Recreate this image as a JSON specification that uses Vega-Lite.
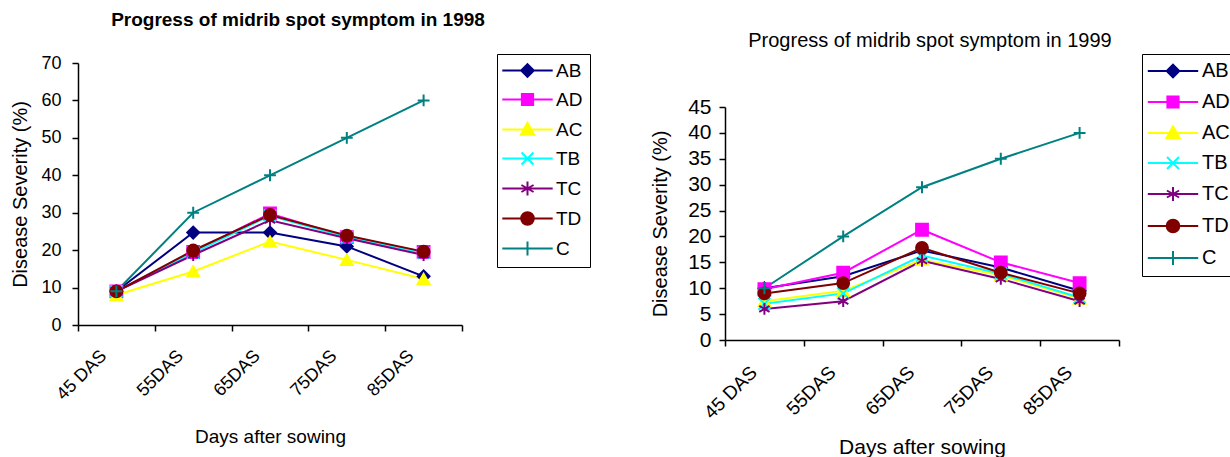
{
  "$schema": "https://vega.github.io/schema/vega-lite/v6.json",
  "padding": {"left": 10, "top": 10, "right": 0, "bottom": 0},
  "background": "white",
  "config": {
    "font": "Liberation Sans",
    "view": {"stroke": null},
    "axis": {
      "grid": false,
      "domainColor": "black",
      "domainWidth": 1.5,
      "tickColor": "black",
      "tickWidth": 1.5,
      "tickSize": 6,
      "labelColor": "black",
      "titleColor": "black",
      "titleFontWeight": "normal",
      "labelFont": "Liberation Sans",
      "titleFont": "Liberation Sans"
    },
    "legend": {
      "strokeColor": "black",
      "fillColor": "white",
      "padding": 7,
      "cornerRadius": 0,
      "labelColor": "black",
      "labelFont": "Liberation Sans",
      "symbolSize": 196,
      "symbolOffset": 14,
      "symbolStrokeWidth": 2,
      "symbolOpacity": 1,
      "labelOffset": 19,
      "rowPadding": 8,
      "title": null
    },
    "concat": {"spacing": 59}
  },
  "resolve": {
    "scale": {"color": "independent", "shape": "independent", "stroke": "independent"},
    "legend": {"color": "independent", "shape": "independent", "stroke": "independent"}
  },
  "hconcat": [
    {
      "width": 384,
      "height": 262,
      "title": {
        "text": "Progress of midrib spot symptom in 1998",
        "fontSize": 19,
        "fontWeight": "bold",
        "color": "black",
        "anchor": "middle",
        "dx": 28,
        "offset": 24
      },
      "data": {
        "values": [
          {"series": "AB", "day": "45 DAS", "value": 9},
          {"series": "AB", "day": "55DAS", "value": 24.7},
          {"series": "AB", "day": "65DAS", "value": 24.7},
          {"series": "AB", "day": "75DAS", "value": 21},
          {"series": "AB", "day": "85DAS", "value": 13},
          {"series": "AD", "day": "45 DAS", "value": 9},
          {"series": "AD", "day": "55DAS", "value": 19.5},
          {"series": "AD", "day": "65DAS", "value": 29.8},
          {"series": "AD", "day": "75DAS", "value": 23.5},
          {"series": "AD", "day": "85DAS", "value": 19.5},
          {"series": "AC", "day": "45 DAS", "value": 8},
          {"series": "AC", "day": "55DAS", "value": 14.3},
          {"series": "AC", "day": "65DAS", "value": 22.3},
          {"series": "AC", "day": "75DAS", "value": 17.4},
          {"series": "AC", "day": "85DAS", "value": 12.3},
          {"series": "TB", "day": "45 DAS", "value": 9},
          {"series": "TB", "day": "55DAS", "value": 19.3},
          {"series": "TB", "day": "65DAS", "value": 29.2},
          {"series": "TB", "day": "75DAS", "value": 23.5},
          {"series": "TB", "day": "85DAS", "value": 19.2},
          {"series": "TC", "day": "45 DAS", "value": 9},
          {"series": "TC", "day": "55DAS", "value": 18.7},
          {"series": "TC", "day": "65DAS", "value": 28},
          {"series": "TC", "day": "75DAS", "value": 23.2},
          {"series": "TC", "day": "85DAS", "value": 18.7},
          {"series": "TD", "day": "45 DAS", "value": 9},
          {"series": "TD", "day": "55DAS", "value": 19.9},
          {"series": "TD", "day": "65DAS", "value": 29.4},
          {"series": "TD", "day": "75DAS", "value": 23.9},
          {"series": "TD", "day": "85DAS", "value": 19.6},
          {"series": "C", "day": "45 DAS", "value": 9},
          {"series": "C", "day": "55DAS", "value": 30},
          {"series": "C", "day": "65DAS", "value": 40},
          {"series": "C", "day": "75DAS", "value": 50},
          {"series": "C", "day": "85DAS", "value": 60}
        ]
      },
      "encoding": {
        "x": {
          "field": "day",
          "type": "ordinal",
          "sort": ["45 DAS", "55DAS", "65DAS", "75DAS", "85DAS"],
          "scale": {"type": "band", "paddingInner": 0, "paddingOuter": 0},
          "axis": {
            "title": "Days after sowing",
            "titleFontSize": 19,
            "titlePadding": 24,
            "labelFontSize": 18,
            "labelAngle": -45,
            "labelAlign": "right",
            "labelBaseline": "middle",
            "labelPadding": 22,
            "labelOffset": -13,
            "tickBand": "extent"
          }
        },
        "y": {
          "field": "value",
          "type": "quantitative",
          "scale": {"domain": [0, 70], "nice": false},
          "axis": {
            "title": "Disease Severity (%)",
            "titleFontSize": 20,
            "titlePadding": 10,
            "labelFontSize": 18,
            "labelPadding": 11,
            "values": [0, 10, 20, 30, 40, 50, 60, 70]
          }
        }
      },
      "layer": [
        {
          "mark": {"type": "line", "strokeWidth": 2},
          "encoding": {
            "color": {"field": "series", "type": "nominal", "legend": null,
              "scale": {"domain": ["AB", "AD", "AC", "TB", "TC", "TD", "C"],
                "range": ["#000080", "#FF00FF", "#FFFF00", "#00FFFF", "#800080", "#800000", "#008080"]}}
          }
        },
        {
          "mark": {"type": "point", "filled": true, "opacity": 1, "size": 140, "strokeWidth": 2},
          "encoding": {
            "color": {"field": "series", "type": "nominal", "legend": null,
              "scale": {"domain": ["AB", "AD", "AC", "TB", "TC", "TD", "C"],
                "range": ["#000080", "#FF00FF", "#FFFF00", "#00FFFF", "#800080", "#800000", "#008080"]}},
            "stroke": {"field": "series", "type": "nominal", "legend": null,
              "scale": {"domain": ["AB", "AD", "AC", "TB", "TC", "TD", "C"],
                "range": ["#000080", "#FF00FF", "#FFFF00", "#00FFFF", "#800080", "#800000", "#008080"]}},
            "shape": {"field": "series", "type": "nominal", "legend": null,
              "scale": {"domain": ["AB", "AD", "AC", "TB", "TC", "TD", "C"],
                "range": ["diamond", "square", "triangle-up", "M-1,-1L1,1M-1,1L1,-1", "M0,-1L0,1M-0.87,-0.5L0.87,0.5M-0.87,0.5L0.87,-0.5", "circle", "M-1,0L1,0M0,-1L0,1"]}}
          }
        },
        {
          "transform": [{"filter": "false"}],
          "mark": {"type": "point", "filled": true, "strokeWidth": 2},
          "encoding": {
            "color": {"field": "series", "type": "nominal",
              "scale": {"domain": ["AB", "AD", "AC", "TB", "TC", "TD", "C"],
                "range": ["#000080", "#FF00FF", "#FFFF00", "#00FFFF", "#800080", "#800000", "#008080"]},
              "legend": {"orient": "none", "legendX": 419, "legendY": -9, "labelFontSize": 19}},
            "stroke": {"field": "series", "type": "nominal",
              "scale": {"domain": ["AB", "AD", "AC", "TB", "TC", "TD", "C"],
                "range": ["#000080", "#FF00FF", "#FFFF00", "#00FFFF", "#800080", "#800000", "#008080"]},
              "legend": {"orient": "none", "legendX": 419, "legendY": -9, "labelFontSize": 19}},
            "shape": {"field": "series", "type": "nominal",
              "scale": {"domain": ["AB", "AD", "AC", "TB", "TC", "TD", "C"],
                "range": ["M-3.6,0L3.6,0M0,-0.9L0.9,0L0,0.9L-0.9,0Z", "M-3.6,0L3.6,0M-0.8,-0.8L0.8,-0.8L0.8,0.8L-0.8,0.8Z", "M-3.6,0L3.6,0M0,-0.95L0.95,0.75L-0.95,0.75Z", "M-3.6,0L3.6,0M-0.85,-0.85L0.85,0.85M-0.85,0.85L0.85,-0.85", "M-3.6,0L3.6,0M0,-1L0,1M-0.87,-0.5L0.87,0.5M-0.87,0.5L0.87,-0.5", "M-3.6,0L3.6,0M-0.9,0A0.9,0.9 0 1,0 0.9,0A0.9,0.9 0 1,0 -0.9,0Z", "M-3.6,0L3.6,0M0,-1L0,1"]},
              "legend": {"orient": "none", "legendX": 419, "legendY": -9, "labelFontSize": 19}}
          }
        }
      ],
      "resolve": {
        "scale": {"color": "independent", "shape": "independent", "stroke": "independent"},
        "legend": {"color": "independent", "shape": "independent", "stroke": "independent"}
      }
    },
    {
      "width": 394,
      "height": 277,
      "title": {
        "text": "Progress of midrib spot symptom in 1999",
        "fontSize": 20,
        "fontWeight": "normal",
        "color": "black",
        "anchor": "middle",
        "dx": 8,
        "offset": 3
      },
      "data": {
        "values": [
          {"series": "AB", "day": "45 DAS", "value": 10},
          {"series": "AB", "day": "55DAS", "value": 12.3},
          {"series": "AB", "day": "65DAS", "value": 17.3},
          {"series": "AB", "day": "75DAS", "value": 14},
          {"series": "AB", "day": "85DAS", "value": 9.5},
          {"series": "AD", "day": "45 DAS", "value": 9.8},
          {"series": "AD", "day": "55DAS", "value": 13},
          {"series": "AD", "day": "65DAS", "value": 21.3},
          {"series": "AD", "day": "75DAS", "value": 15},
          {"series": "AD", "day": "85DAS", "value": 11},
          {"series": "AC", "day": "45 DAS", "value": 7.5},
          {"series": "AC", "day": "55DAS", "value": 9.5},
          {"series": "AC", "day": "65DAS", "value": 15.5},
          {"series": "AC", "day": "75DAS", "value": 12.5},
          {"series": "AC", "day": "85DAS", "value": 8},
          {"series": "TB", "day": "45 DAS", "value": 7},
          {"series": "TB", "day": "55DAS", "value": 9},
          {"series": "TB", "day": "65DAS", "value": 16.3},
          {"series": "TB", "day": "75DAS", "value": 12.8},
          {"series": "TB", "day": "85DAS", "value": 8.2},
          {"series": "TC", "day": "45 DAS", "value": 6},
          {"series": "TC", "day": "55DAS", "value": 7.5},
          {"series": "TC", "day": "65DAS", "value": 15.3},
          {"series": "TC", "day": "75DAS", "value": 11.8},
          {"series": "TC", "day": "85DAS", "value": 7.5},
          {"series": "TD", "day": "45 DAS", "value": 9},
          {"series": "TD", "day": "55DAS", "value": 11},
          {"series": "TD", "day": "65DAS", "value": 17.8},
          {"series": "TD", "day": "75DAS", "value": 13},
          {"series": "TD", "day": "85DAS", "value": 9},
          {"series": "C", "day": "45 DAS", "value": 10},
          {"series": "C", "day": "55DAS", "value": 20},
          {"series": "C", "day": "65DAS", "value": 29.5},
          {"series": "C", "day": "75DAS", "value": 35},
          {"series": "C", "day": "85DAS", "value": 40}
        ]
      },
      "encoding": {
        "x": {
          "field": "day",
          "type": "ordinal",
          "sort": ["45 DAS", "55DAS", "65DAS", "75DAS", "85DAS"],
          "scale": {"type": "band", "paddingInner": 0, "paddingOuter": 0},
          "axis": {
            "title": "Days after sowing",
            "titleFontSize": 21,
            "titlePadding": 14,
            "labelFontSize": 19,
            "labelAngle": -45,
            "labelAlign": "right",
            "labelBaseline": "middle",
            "labelPadding": 23,
            "labelOffset": -11,
            "tickBand": "extent"
          }
        },
        "y": {
          "field": "value",
          "type": "quantitative",
          "scale": {"domain": [0, 45], "nice": false, "range": [277, 44]},
          "axis": {
            "title": "Disease Severity (%)",
            "titleFontSize": 20,
            "titlePadding": 17,
            "labelFontSize": 21,
            "labelPadding": 8,
            "values": [0, 5, 10, 15, 20, 25, 30, 35, 40, 45]
          }
        }
      },
      "layer": [
        {
          "mark": {"type": "line", "strokeWidth": 2},
          "encoding": {
            "color": {"field": "series", "type": "nominal", "legend": null,
              "scale": {"domain": ["AB", "AD", "AC", "TB", "TC", "TD", "C"],
                "range": ["#000080", "#FF00FF", "#FFFF00", "#00FFFF", "#800080", "#800000", "#008080"]}}
          }
        },
        {
          "mark": {"type": "point", "filled": true, "opacity": 1, "size": 140, "strokeWidth": 2},
          "encoding": {
            "color": {"field": "series", "type": "nominal", "legend": null,
              "scale": {"domain": ["AB", "AD", "AC", "TB", "TC", "TD", "C"],
                "range": ["#000080", "#FF00FF", "#FFFF00", "#00FFFF", "#800080", "#800000", "#008080"]}},
            "stroke": {"field": "series", "type": "nominal", "legend": null,
              "scale": {"domain": ["AB", "AD", "AC", "TB", "TC", "TD", "C"],
                "range": ["#000080", "#FF00FF", "#FFFF00", "#00FFFF", "#800080", "#800000", "#008080"]}},
            "shape": {"field": "series", "type": "nominal", "legend": null,
              "scale": {"domain": ["AB", "AD", "AC", "TB", "TC", "TD", "C"],
                "range": ["diamond", "square", "triangle-up", "M-1,-1L1,1M-1,1L1,-1", "M0,-1L0,1M-0.87,-0.5L0.87,0.5M-0.87,0.5L0.87,-0.5", "circle", "M-1,0L1,0M0,-1L0,1"]}}
          }
        },
        {
          "transform": [{"filter": "false"}],
          "mark": {"type": "point", "filled": true, "strokeWidth": 2},
          "encoding": {
            "color": {"field": "series", "type": "nominal",
              "scale": {"domain": ["AB", "AD", "AC", "TB", "TC", "TD", "C"],
                "range": ["#000080", "#FF00FF", "#FFFF00", "#00FFFF", "#800080", "#800000", "#008080"]},
              "legend": {"orient": "none", "legendX": 417, "legendY": -9, "labelFontSize": 20, "rowPadding": 10}},
            "stroke": {"field": "series", "type": "nominal",
              "scale": {"domain": ["AB", "AD", "AC", "TB", "TC", "TD", "C"],
                "range": ["#000080", "#FF00FF", "#FFFF00", "#00FFFF", "#800080", "#800000", "#008080"]},
              "legend": {"orient": "none", "legendX": 417, "legendY": -9, "labelFontSize": 20, "rowPadding": 10}},
            "shape": {"field": "series", "type": "nominal",
              "scale": {"domain": ["AB", "AD", "AC", "TB", "TC", "TD", "C"],
                "range": ["M-3.6,0L3.6,0M0,-0.9L0.9,0L0,0.9L-0.9,0Z", "M-3.6,0L3.6,0M-0.8,-0.8L0.8,-0.8L0.8,0.8L-0.8,0.8Z", "M-3.6,0L3.6,0M0,-0.95L0.95,0.75L-0.95,0.75Z", "M-3.6,0L3.6,0M-0.85,-0.85L0.85,0.85M-0.85,0.85L0.85,-0.85", "M-3.6,0L3.6,0M0,-1L0,1M-0.87,-0.5L0.87,0.5M-0.87,0.5L0.87,-0.5", "M-3.6,0L3.6,0M-0.9,0A0.9,0.9 0 1,0 0.9,0A0.9,0.9 0 1,0 -0.9,0Z", "M-3.6,0L3.6,0M0,-1L0,1"]},
              "legend": {"orient": "none", "legendX": 417, "legendY": -9, "labelFontSize": 20, "rowPadding": 10}}
          }
        }
      ],
      "resolve": {
        "scale": {"color": "independent", "shape": "independent", "stroke": "independent"},
        "legend": {"color": "independent", "shape": "independent", "stroke": "independent"}
      }
    }
  ]
}
